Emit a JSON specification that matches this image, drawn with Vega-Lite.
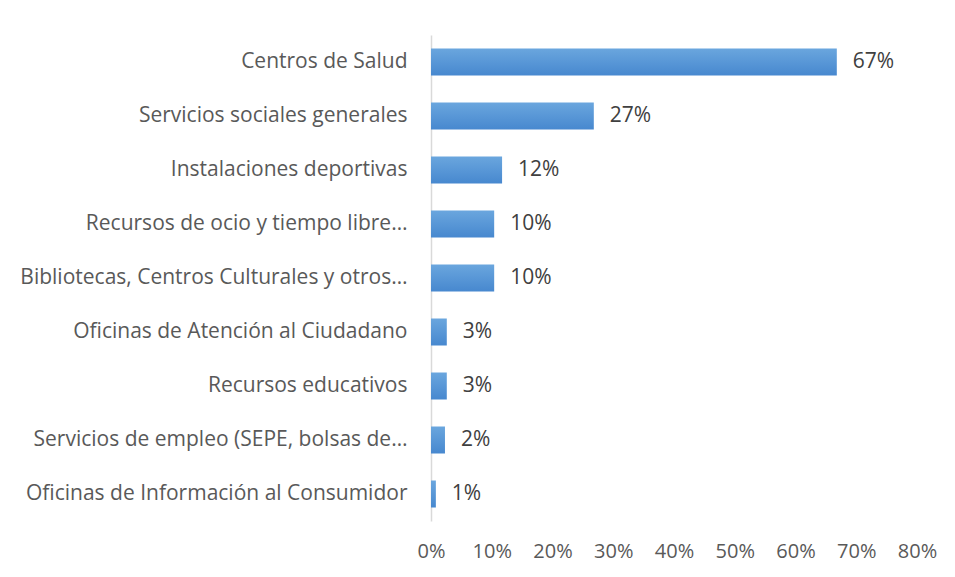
{
  "$schema": "https://vega.github.io/schema/vega-lite/v6.json",
  "autosize": "none",
  "width": 486,
  "height": 486,
  "padding": {"left": 431, "top": 35, "right": 38, "bottom": 56},
  "background": "white",
  "config": {"view": {"stroke": null}, "font": "Open Sans"},
  "data": {
    "values": [
      {"categoria": "Centros de Salud", "valor": 0.668},
      {"categoria": "Servicios sociales generales", "valor": 0.268},
      {"categoria": "Instalaciones deportivas", "valor": 0.117},
      {"categoria": "Recursos de ocio y tiempo libre…", "valor": 0.104},
      {"categoria": "Bibliotecas, Centros Culturales y otros…", "valor": 0.104},
      {"categoria": "Oficinas de Atención al Ciudadano", "valor": 0.026},
      {"categoria": "Recursos educativos", "valor": 0.026},
      {"categoria": "Servicios de empleo (SEPE, bolsas de…", "valor": 0.023},
      {"categoria": "Oficinas de Información al Consumidor", "valor": 0.008}
    ]
  },
  "encoding": {
    "y": {
      "field": "categoria",
      "type": "nominal",
      "sort": null,
      "scale": {"paddingInner": 0.5, "paddingOuter": 0.25},
      "axis": {
        "title": null,
        "ticks": false,
        "domainColor": "#d9d9d9",
        "domainWidth": 1.5,
        "labelFontSize": 21,
        "labelColor": "#595959",
        "labelPadding": 24,
        "labelLimit": 430
      }
    },
    "x": {
      "field": "valor",
      "type": "quantitative",
      "scale": {"domain": [0, 0.8]},
      "axis": {
        "title": null,
        "format": ".0%",
        "values": [0, 0.1, 0.2, 0.3, 0.4, 0.5, 0.6, 0.7, 0.8],
        "grid": false,
        "ticks": false,
        "domain": false,
        "labelFontSize": 20,
        "labelColor": "#595959",
        "labelPadding": 20,
        "labelFlush": false,
        "labelOverlap": false
      }
    }
  },
  "layer": [
    {
      "mark": {
        "type": "bar",
        "color": {
          "gradient": "linear",
          "x1": 0, "y1": 0, "x2": 0, "y2": 1,
          "stops": [
            {"offset": 0, "color": "#6aa6de"},
            {"offset": 1, "color": "#4788cf"}
          ]
        }
      }
    },
    {
      "mark": {"type": "text", "align": "left", "dx": 16, "fontSize": 21, "color": "#404040"},
      "encoding": {
        "text": {"field": "valor", "type": "quantitative", "format": ".0%"}
      }
    }
  ]
}
